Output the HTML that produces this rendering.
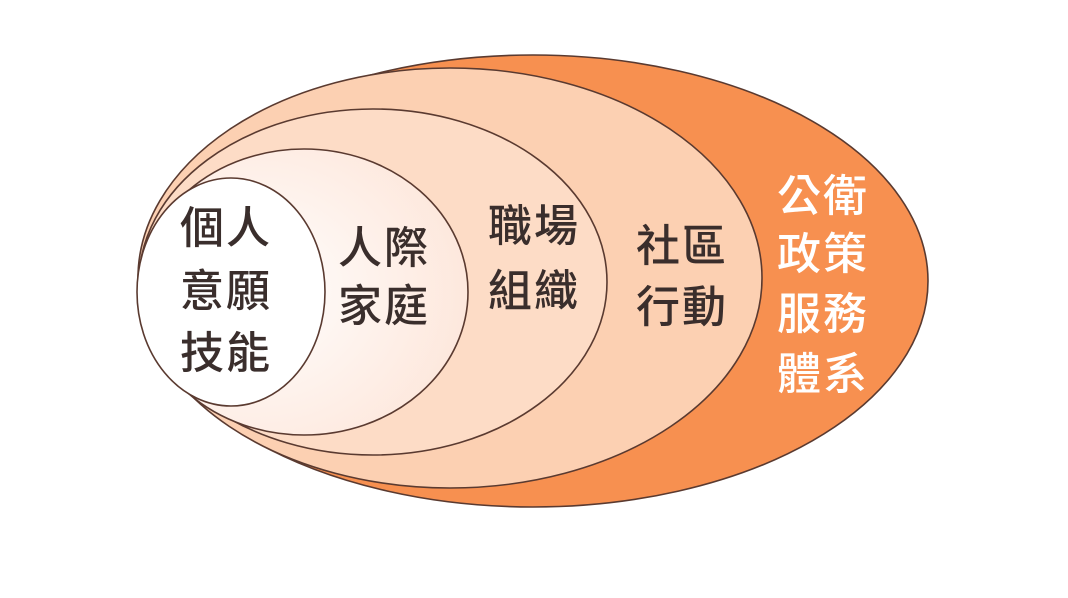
<!DOCTYPE html>
<html><head><meta charset="utf-8"><style>
html,body{margin:0;padding:0;background:#fff;}
svg{display:block}
text{font-family:"Liberation Sans","Noto Sans CJK TC",sans-serif;font-size:44px;letter-spacing:2px;font-weight:500;}
</style></head><body>
<svg width="1068" height="598" viewBox="0 0 1068 598">
<defs>
<radialGradient id="g2" cx="0.35" cy="0.5" r="0.7">
<stop offset="0" stop-color="#ffffff"/><stop offset="1" stop-color="#fde6da"/>
</radialGradient>
</defs>
<g stroke="#5a3a30" stroke-width="1.6">
<ellipse cx="533" cy="281" rx="395" ry="226" fill="#f79050"/>
<ellipse cx="450" cy="278" rx="312" ry="210" fill="#fcd0b2"/>
<ellipse cx="373" cy="282" rx="234" ry="173" fill="#fddcc6"/>
<ellipse cx="304" cy="292" rx="164" ry="143" fill="url(#g2)"/>
<ellipse cx="231" cy="292" rx="94" ry="114" fill="#ffffff"/>
</g>
<g fill="#3a2e2c">
<text x="180" y="243">個人</text>
<text x="180" y="306">意願</text>
<text x="180" y="368">技能</text>
<text x="338" y="263">人際</text>
<text x="338" y="321">家庭</text>
<text x="488" y="241">職場</text>
<text x="488" y="306">組織</text>
<text x="636" y="261">社區</text>
<text x="636" y="322">行動</text>
</g>
<g fill="#ffffff">
<text x="777" y="211">公衛</text>
<text x="777" y="269">政策</text>
<text x="777" y="329">服務</text>
<text x="777" y="389">體系</text>
</g>
</svg>
</body></html>
